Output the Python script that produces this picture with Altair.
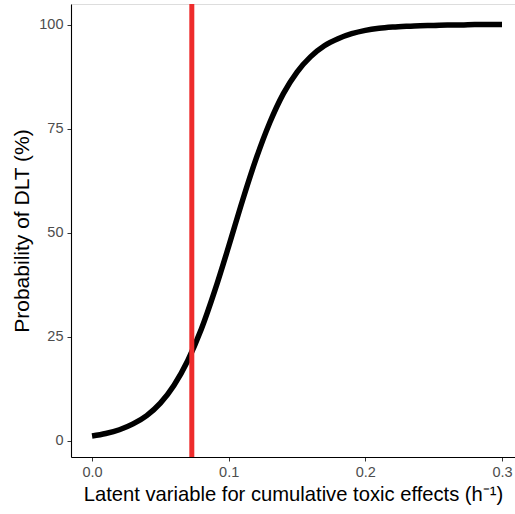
import altair as alt
import pandas as pd

# Values
latent = [0.00, 0.01, 0.02, 0.03, 0.04, 0.05, 0.06, 0.07, 0.08, 0.09,
          0.10, 0.11, 0.12, 0.13, 0.14, 0.15, 0.16, 0.17, 0.18, 0.19,
          0.20, 0.21, 0.22, 0.23, 0.24, 0.25, 0.26, 0.27, 0.28, 0.29, 0.30]
prob_dlt = [1.1, 1.7, 2.6, 4.0, 6.0, 9.0, 13.3, 19.2, 26.8, 36.2,
            46.7, 57.6, 67.7, 76.4, 83.4, 88.6, 92.3, 94.9, 96.6, 97.8,
            98.6, 99.1, 99.4, 99.6, 99.75, 99.8, 99.9, 99.9, 100.0, 100.0, 100.0]
threshold = [0.073]

x_ticks = [0.0, 0.1, 0.2, 0.3]
y_ticks = [0, 25, 50, 75, 100]

curve_df = pd.DataFrame({"x": latent, "y": prob_dlt})
vline_df = pd.DataFrame({"x": threshold})

font = "Liberation Sans"

x_scale = alt.Scale(domain=[-0.0154, 0.3095], nice=False, zero=False)
y_scale = alt.Scale(domain=[-3.95, 104.95], nice=False, zero=False)

x_axis = alt.Axis(
    title="Latent variable for cumulative toxic effects (h⁻¹)",
    values=x_ticks, format=".1f", grid=False,
    domainColor="black", domainWidth=1.1, tickColor="#333333", tickSize=4,
    labelColor="#4d4d4d", labelFontSize=14.5, labelFont=font, labelPadding=4,
    titleFont=font, titleFontSize=20.2, titleFontWeight="normal", titleColor="black",
    titlePadding=6,
)
y_axis = alt.Axis(
    title="Probability of DLT (%)",
    values=y_ticks, grid=False,
    domainColor="black", domainWidth=1.1, tickColor="#333333", tickSize=4,
    labelColor="#4d4d4d", labelFontSize=14.5, labelFont=font, labelPadding=4,
    titleFont=font, titleFontSize=21, titleFontWeight="normal", titleColor="black",
    titlePadding=6,
)

curve = alt.Chart(curve_df).mark_line(
    color="black", strokeWidth=5.5, interpolate="monotone", strokeCap="butt"
).encode(
    x=alt.X("x:Q", scale=x_scale, axis=x_axis),
    y=alt.Y("y:Q", scale=y_scale, axis=y_axis),
)

vline = alt.Chart(vline_df).mark_rule(
    color="#EE2C2C", strokeWidth=5
).encode(
    x=alt.X("x:Q", scale=x_scale)
)

chart = alt.layer(curve, vline).properties(
    width=444, height=453,
    autosize=alt.AutoSizeParams(type="none"),
    padding={"left": 71, "top": 4, "right": 0, "bottom": 57},
).configure_view(stroke=None).configure(background="white")

chart.save("out.html", embed_options={"renderer": "svg", "actions": False})
